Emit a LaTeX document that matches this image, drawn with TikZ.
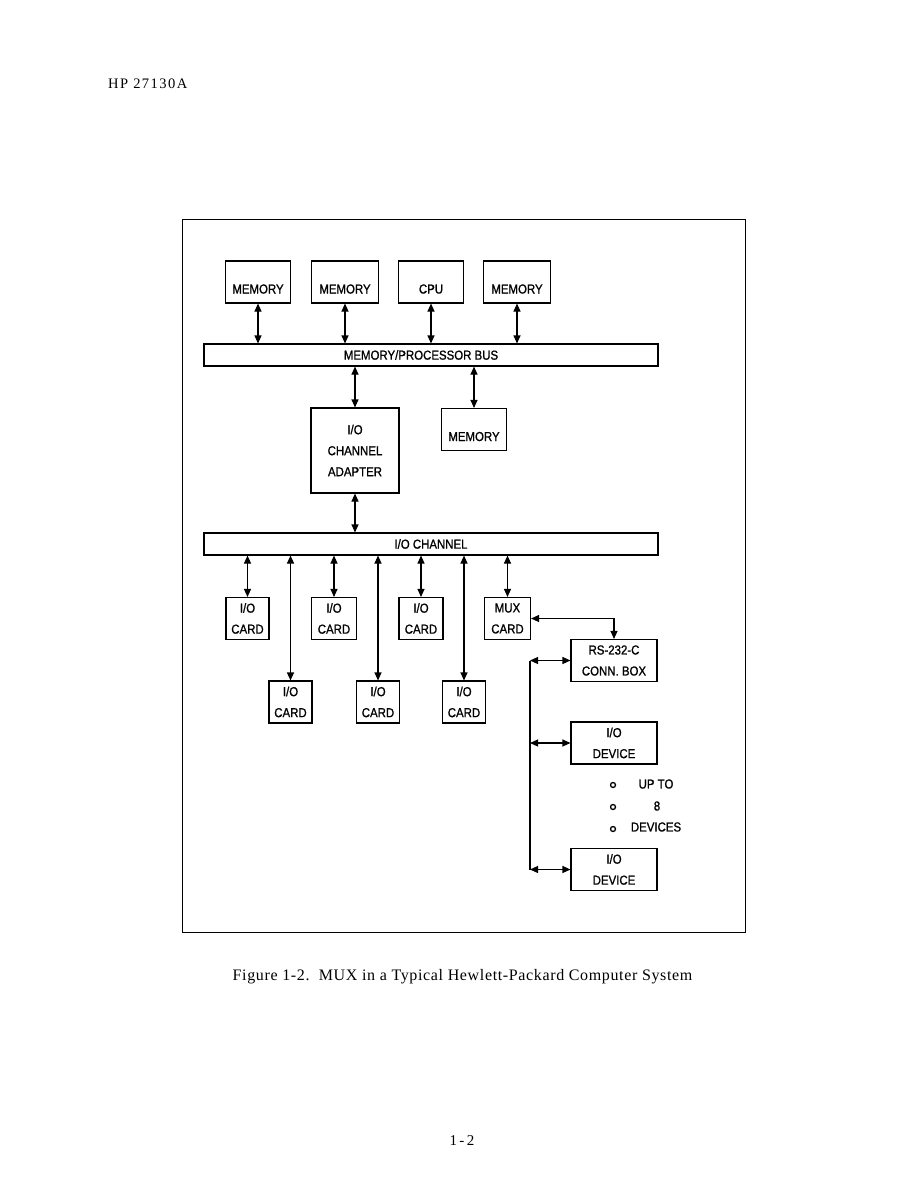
\documentclass[tikz,border=0pt]{standalone}
\usepackage{fontspec}
\setmainfont{Liberation Serif}
\setsansfont{Liberation Sans}
\newfontfamily\plotfont[FakeStretch=0.88,FakeBold=1]{Liberation Sans}
\newfontfamily\capfont[LetterSpace=4]{Liberation Serif}
\newfontfamily\hdrfont[LetterSpace=10]{Liberation Serif}
\usetikzlibrary{arrows.meta,calc,positioning}

\begin{document}
\begin{tikzpicture}[x=1pt, y=-1pt, >={Triangle[length=8pt,width=7pt]},
  every node/.style={font=\plotfont\fontsize{13}{21}\selectfont, inner sep=0pt},
  blk/.style={draw, line width=1.1pt, align=center, minimum height=42pt},
  one/.style={blk, text height=23pt, text depth=0pt},
  bus/.style={draw, line width=1.1pt, minimum width=454pt, minimum height=22pt},
  link/.style={<->, line width=1.1pt}]
  \useasboundingbox (0,0) rectangle (918,1188);
  \draw[line width=0.9pt] (182,219) rectangle (745,932);
  % memory / processor level
  \node[one, minimum width=65pt] (mem1) at (258,282) {MEMORY};
  \node[one, minimum width=67pt] (mem2) at (345,282) {MEMORY};
  \node[one, minimum width=65pt] (cpu) at (431,282) {CPU};
  \node[one, minimum width=67pt] (mem3) at (517,282) {MEMORY};
  \node[bus, label={[xshift=-10pt]center:MEMORY/PROCESSOR BUS}] (mpbus) at (431,355) {};
  \draw[link] (mem1.south) -- (mem1.south |- mpbus.north);
  \draw[link] (mem2.south) -- (mem2.south |- mpbus.north);
  \draw[link] (cpu.south) -- (cpu.south |- mpbus.north);
  \draw[link] (mem3.south) -- (mem3.south |- mpbus.north);
  \node[blk, minimum width=88pt, minimum height=85pt] (ica) at (355,450.5) {I/O\\CHANNEL\\ADAPTER};
  \node[one, minimum width=65pt] (mem4) at (474,429.5) {MEMORY};
  \draw[link] (ica.north) -- (ica.north |- mpbus.south);
  \draw[link] (mem4.north) -- (mem4.north |- mpbus.south);
  % i/o channel level
  \node[bus] (ioch) at (431,544) {I/O CHANNEL};
  \draw[link] (ica.south) -- (ica.south |- ioch.north);
  \node[blk, minimum width=43pt] (card1) at (247.5,618.5) {I/O\\CARD};
  \node[blk, minimum width=45pt] (card2) at (334,618.5) {I/O\\CARD};
  \node[blk, minimum width=44pt] (card3) at (421,618.5) {I/O\\CARD};
  \node[blk, minimum width=46pt] (mux) at (507.5,618.5) {MUX\\CARD};
  \node[blk, minimum width=43pt] (card4) at (290.5,702) {I/O\\CARD};
  \node[blk, minimum width=43pt] (card5) at (378,702) {I/O\\CARD};
  \node[blk, minimum width=43pt] (card6) at (464,702) {I/O\\CARD};
  \draw[link] (card1.north |- ioch.south) -- (card1.north);
  \draw[link] (card2.north |- ioch.south) -- (card2.north);
  \draw[link] (card3.north |- ioch.south) -- (card3.north);
  \draw[link] (mux.north |- ioch.south) -- (mux.north);
  \draw[link] (card4.north |- ioch.south) -- (card4.north);
  \draw[link] (card5.north |- ioch.south) -- (card5.north);
  \draw[link] (card6.north |- ioch.south) -- (card6.north);
  % mux side
  \node[blk, minimum width=86pt] (rsbox) at (614,660.5) {RS-232-C\\CONN. BOX};
  \draw[link] (mux.east) -| (rsbox.north);
  \node[blk, minimum width=86pt] (dev1) at (614,743) {I/O\\DEVICE};
  \node[blk, minimum width=86pt] (dev2) at (614,869.5) {I/O\\DEVICE};
  \coordinate (ttop) at (530,660.5);
  \coordinate (tbot) at (530,869.5);
  \draw[line width=1.1pt] (ttop) -- (tbot);
  \draw[link] (rsbox.west -| ttop) -- (rsbox.west);
  \draw[link] (dev1.west -| ttop) -- (dev1.west);
  \draw[link] (dev2.west -| ttop) -- (dev2.west);
  \node[circle, draw, line width=1.3pt, minimum size=5pt] (dot1) at (613,785) {};
  \node[circle, draw, line width=1.3pt, minimum size=5pt] (dot2) at (613,807) {};
  \node[circle, draw, line width=1.3pt, minimum size=5pt] (dot3) at (613,829) {};
  \node (upto) at (656,784) {UP TO};
  \node (eight) at (657,806) {8};
  \node (devs) at (656,827) {DEVICES};
  % page text
  \node[font=\hdrfont\fontsize{14.5}{14.5}\selectfont, anchor=base west] (hdr) at (108,89) {HP 27130A};
  \node[font=\capfont\fontsize{16}{16}\selectfont, anchor=base] (caption) at (462.5,980) {Figure 1-2.\ \ MUX in a Typical Hewlett-Packard Computer System};
  \node[font=\hdrfont\fontsize{15}{15}\selectfont, anchor=base] (pgno) at (462,1145) {1\,-\,2};
\end{tikzpicture}
\end{document}
